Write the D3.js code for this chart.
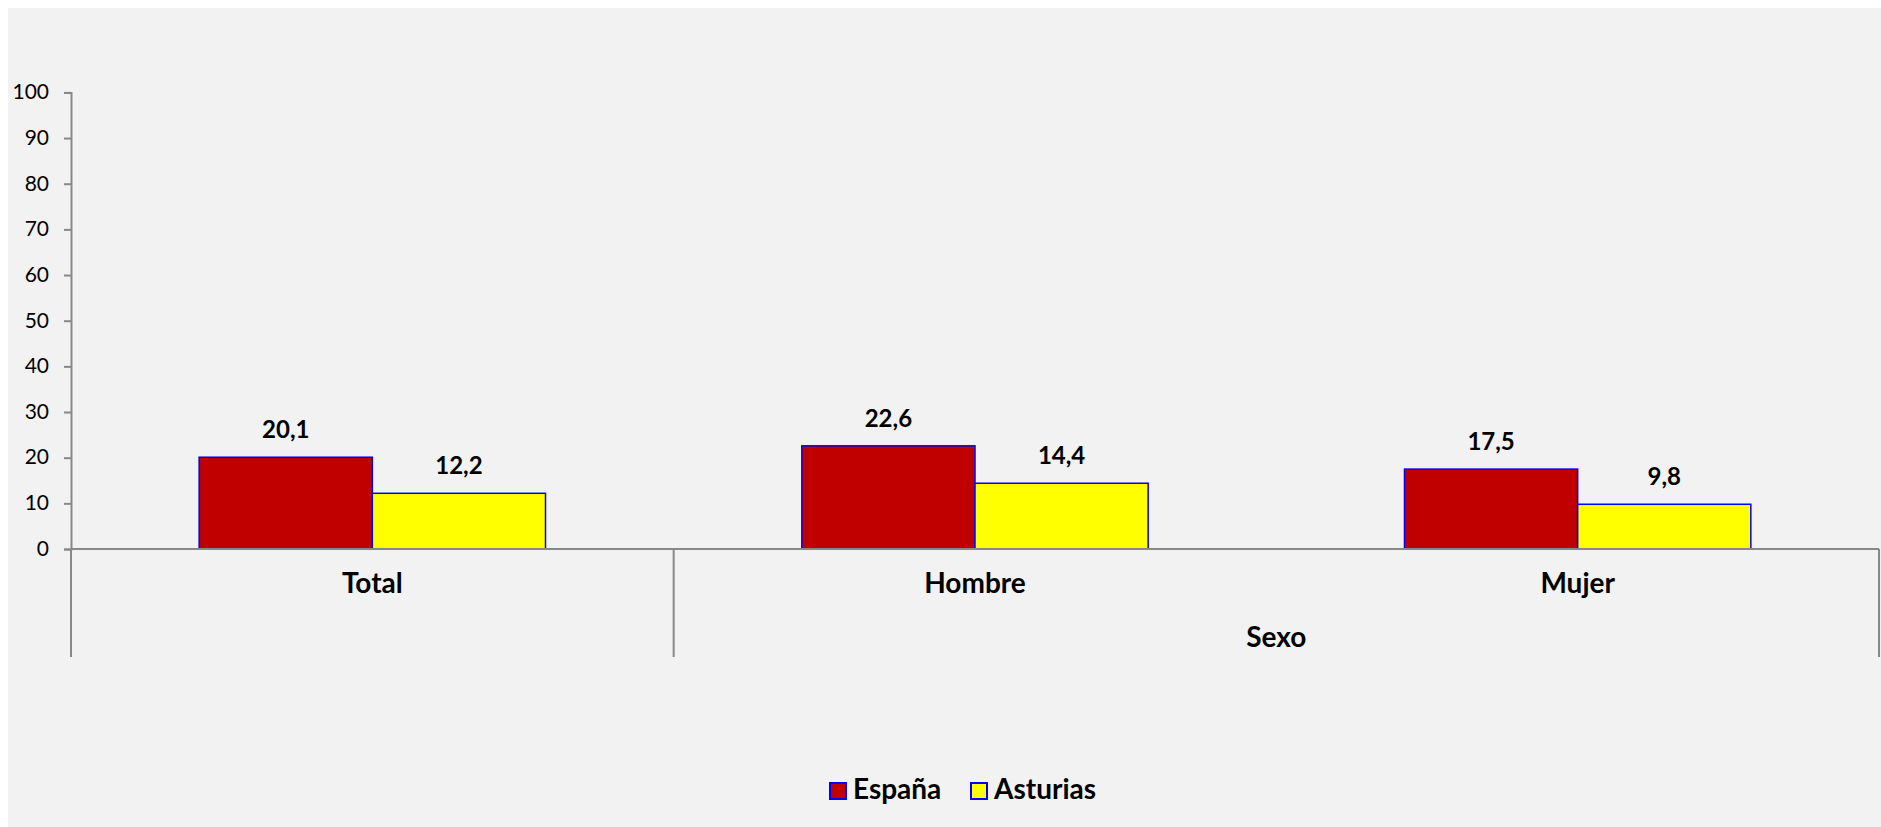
<!DOCTYPE html>
<html>
<head>
<meta charset="utf-8">
<script src="https://cdn.jsdelivr.net/npm/d3@7"></script>
<style>
    body{margin:0;background:#fff;}
    text{font-family:Lato,'Noto Sans',sans-serif;fill:#000;}
</style>
</head>
<body>
<div id="panChart"></div>
<script>
// Data
let lstCategory = ['Total','Hombre','Mujer'];
let lstSeries = ['España','Asturias'];
let valEspana = [20.1,22.6,17.5];
let valAsturias = [12.2,14.4,9.8];
let lstTicks = [0,10,20,30,40,50,60,70,80,90,100];
let lstGroup = [{name:'Sexo',from:'Hombre',to:'Mujer'}];

let lstColor = ['#c00000','#ffff00'];
let chWidth = 1881, chHeight = 827;

let svg = d3.select('#panChart').append('svg')
    .attr('width',chWidth)
    .attr('height',chHeight);

// Background panel
svg.append('rect')
    .attr('x',8).attr('y',8)
    .attr('width',chWidth-8).attr('height',chHeight-8)
    .attr('fill','#f2f2f2');

let sclX = d3.scaleBand()
    .domain(lstCategory)
    .range([71,1879])
    .paddingInner(0)
    .paddingOuter(0);

let sclSub = d3.scaleBand()
    .domain(lstSeries)
    .range([0,sclX.bandwidth()])
    .paddingInner(0)
    .paddingOuter(0.74);

let sclY = d3.scaleLinear()
    .domain([0,100])
    .range([549,92.4]);

// Y axis
let axY = svg.append('g')
    .attr('transform','translate(71,0)')
    .call(d3.axisLeft(sclY).tickValues(lstTicks).tickSize(7).tickPadding(15).tickFormat(d=>d));
axY.select('.domain').attr('stroke','#888').attr('stroke-width',2);
axY.selectAll('.tick line').attr('stroke','#888').attr('stroke-width',2);
axY.selectAll('.tick text')
    .attr('font-size',21)
    .attr('font-family','Lato,sans-serif')
    .attr('dy','0.3em');

// Bars
let dtBars = [];
lstCategory.forEach((c,i)=>{
    dtBars.push({cat:c,series:lstSeries[0],value:valEspana[i],color:lstColor[0]});
    dtBars.push({cat:c,series:lstSeries[1],value:valAsturias[i],color:lstColor[1]});
});

let bars = svg.append('g').selectAll('g')
    .data(dtBars).enter()
    .append('g');

bars.append('rect')
    .attr('x',d=>sclX(d.cat)+sclSub(d.series))
    .attr('y',d=>sclY(d.value))
    .attr('width',sclSub.bandwidth())
    .attr('height',d=>sclY(0)-sclY(d.value))
    .attr('fill',d=>d.color)
    .attr('stroke','#0000ff')
    .attr('stroke-width',1.5);

bars.append('text')
    .attr('x',d=>sclX(d.cat)+sclSub(d.series)+sclSub.bandwidth()/2)
    .attr('y',d=>sclY(d.value)-19)
    .attr('text-anchor','middle')
    .attr('font-size',24)
    .attr('font-weight','bold')
    .text(d=>d.value.toFixed(1).replace('.',','));

// X axis and multi level labels
let yBase = sclY(0);
svg.append('line')
    .attr('x1',71).attr('x2',1879)
    .attr('y1',yBase).attr('y2',yBase)
    .attr('stroke','#888').attr('stroke-width',2);

let lstDivider = [sclX('Total'),sclX('Hombre'),sclX.range()[1]];
svg.append('g').selectAll('line')
    .data(lstDivider).enter()
    .append('line')
    .attr('x1',d=>d).attr('x2',d=>d)
    .attr('y1',yBase).attr('y2',657)
    .attr('stroke','#888').attr('stroke-width',2);

svg.append('g').selectAll('text')
    .data(lstCategory).enter()
    .append('text')
    .attr('x',d=>sclX(d)+sclX.bandwidth()/2)
    .attr('y',593)
    .attr('text-anchor','middle')
    .attr('font-size',28)
    .attr('font-weight','bold')
    .text(d=>d);

svg.append('g').selectAll('text')
    .data(lstGroup).enter()
    .append('text')
    .attr('x',d=>(sclX(d.from)+sclX(d.to)+sclX.bandwidth())/2)
    .attr('y',647)
    .attr('text-anchor','middle')
    .attr('font-size',28)
    .attr('font-weight','bold')
    .text(d=>d.name);

// Legend
let lgX = [829,970];
let legend = svg.append('g').selectAll('g')
    .data(lstSeries).enter()
    .append('g')
    .attr('transform',(d,i)=>`translate(${lgX[i]},782)`);

legend.append('rect')
    .attr('width',16).attr('height',16)
    .attr('x',1).attr('y',1)
    .attr('fill',(d,i)=>lstColor[i])
    .attr('stroke','#0000ff')
    .attr('stroke-width',2);

legend.append('text')
    .attr('x',24)
    .attr('y',17)
    .attr('font-size',28)
    .attr('font-weight','bold')
    .text(d=>d);
</script>
</body>
</html>
